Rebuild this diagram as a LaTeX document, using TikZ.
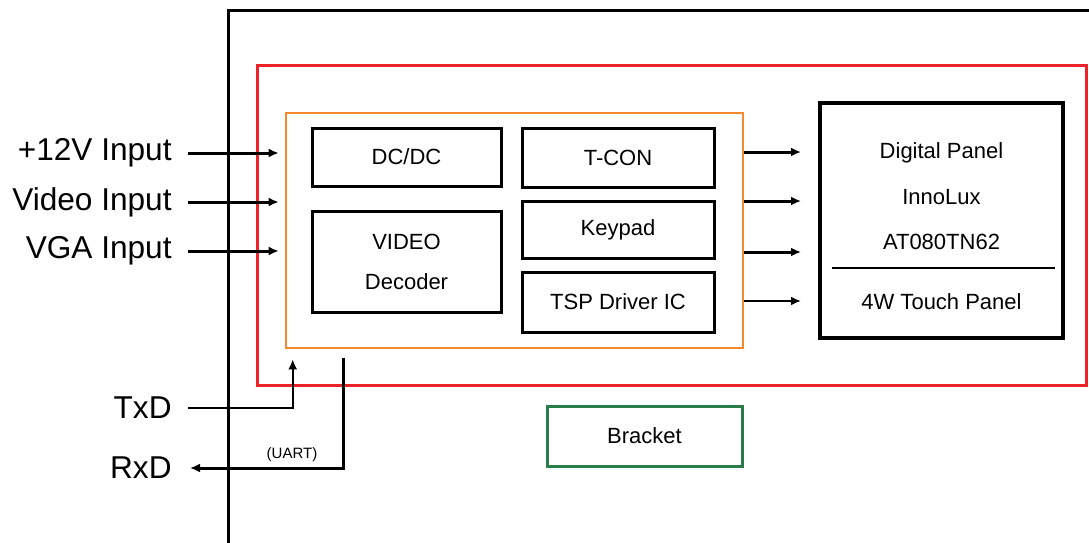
\documentclass[tikz,border=0pt]{standalone}
\usepackage{fontspec}
\setmainfont{Liberation Sans}
\usepackage{xcolor}
\usepackage{tikz}
\usetikzlibrary{shapes,arrows,arrows.meta,positioning}

\definecolor{framered}{RGB}{236,36,42}
\definecolor{boardorange}{RGB}{246,136,46}
\definecolor{bracketgreen}{RGB}{40,125,72}

\tikzset{
    block/.style={draw, line width=1.5pt, inner sep=0pt,
        minimum width=94.5pt, font=\fontsize{11}{13}\selectfont},
    iolabel/.style={inner sep=2pt, font=\fontsize{15.8}{18}\selectfont},
    panelText/.style={inner sep=0pt, font=\fontsize{11}{13}\selectfont},
    arr/.style={line width=1.5pt, -{Latex[length=5pt,width=4.5pt]}}
}

\begin{document}
\begin{tikzpicture}[x=0.5pt,y=-0.5pt]
                \clip (0,0) rectangle (1089,542);

                % housing
                \draw[line width=1.5pt] (228,560) -- (228,10) -- (1100,10);

                % module and board
                \node[
                    draw=framered,
                    line width=1.5pt,
                    minimum width=414.5pt,
                    minimum height=160pt
                    ] (module) at (671.5,225) {};

                \node[
                    draw=boardorange,
                    line width=1.3pt,
                    minimum width=228.5pt,
                    minimum height=117.5pt
                    ] (board) at (514.5,230.5) {};

                \node[block, minimum height=29pt] (dcdc) at (406.5,157) {DC/DC};
                \node[block, minimum height=50.5pt, align=center] (video) at (406.5,261.5)
                    {VIDEO\\[7pt]Decoder};
                \node[block, minimum width=96pt, minimum height=29.5pt] (tcon) at (618,157.5) {T-CON};
                \node[block, minimum width=96pt, minimum height=28.5pt] (keypad) at (618,229.5) {Keypad};
                \node[block, minimum width=96pt, minimum height=30pt] (tsp) at (618,302) {TSP Driver IC};

                % panel
                \node[
                    draw,
                    line width=2pt,
                    minimum width=121.5pt,
                    minimum height=117.5pt
                    ] (panel) at (941.5,220.5) {};
                \node[panelText] (digital) at (941.5,153) {Digital Panel};
                \node[panelText] (innolux) at (941.5,197) {InnoLux};
                \node[panelText] (model) at (941.5,242) {AT080TN62};
                \node[panelText] (touch) at (941.5,302) {4W Touch Panel};
                \draw[line width=0.8pt] ([xshift=7pt]panel.west |- 0,268) -- ([xshift=-5pt]panel.east |- 0,268);

                \node[
                    draw=bracketgreen,
                    line width=1.5pt,
                    minimum width=97.5pt,
                    minimum height=30pt,
                    font=\fontsize{11}{13}\selectfont
                    ] (bracket) at (644.5,436) {Bracket};

                % inputs
                \node[iolabel, anchor=east] (pwr) at (176,153) {+12V Input};
                \node[iolabel, anchor=east] (cvbs) at (176,202) {Video Input};
                \node[iolabel, anchor=east] (vga) at (176,251) {VGA Input};
                \foreach \n in {pwr,cvbs,vga}
                    \draw[arr, shorten <=6pt, shorten >=3pt] (\n.east) -- (board.west |- \n.east);

                % outputs
                \draw[arr, shorten >=8.5pt] (board.east |- 0,152) -- (panel.west |- 0,152);
                \draw[arr, shorten >=8.5pt] (board.east |- 0,201) -- (panel.west |- 0,201);
                \draw[arr, shorten >=8.5pt] (board.east |- 0,252) -- (panel.west |- 0,252);
                \draw[arr, line width=1pt, shorten >=8.5pt] (board.east |- 0,301) -- (panel.west |- 0,301);

                % uart
                \node[iolabel, anchor=east] (txd) at (176,408) {TxD};
                \node[iolabel, anchor=east] (rxd) at (176,468) {RxD};
                \draw[arr, line width=1.2pt, shorten <=6pt, shorten >=5pt]
                    (txd.east) -| ([xshift=4pt]board.south west);
                \draw[arr, shorten <=4.5pt, shorten >=7pt]
                    ([xshift=29.5pt]board.south west) |- (rxd.east);
                \node[font=\fontsize{7.5}{9}\selectfont] (uart) at (292,455) {(UART)};
            \end{tikzpicture}
\end{document}
